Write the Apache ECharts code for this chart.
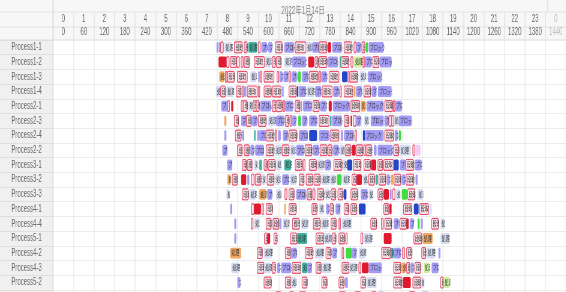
<!DOCTYPE html>
<html><head><meta charset="utf-8">
<script src="https://cdn.jsdelivr.net/npm/echarts@6/dist/echarts.min.js"></script>
<style>html,body{margin:0;padding:0;background:#fff;overflow:hidden;width:566px;height:292px}#c{width:943.33px;height:305px;transform:scaleX(0.6);transform-origin:0 0}</style>
</head><body><div id="c"></div>
<script>
const dateTitle = '2022年1月14日';
const hourLabels = ['0','1','2','3','4','5','6','7','8','9','10','11','12','13','14','15','16','17','18','19','20','21','22','23','0'];
const minuteLabels = ['0','60','120','180','240','300','360','420','480','540','600','660','720','780','840','900','960','1020','1080','1140','1200','1260','1320','1380','1440'];
const rowNames = ['Process1-1','Process1-2','Process1-3','Process1-4','Process2-1','Process2-3','Process2-4','Process2-2','Process3-1','Process3-2','Process3-3','Process4-1','Process4-4','Process5-1','Process4-2','Process4-3','Process5-2','Process5-3'];

// [start minute, end minute, kind]
const p1_1 = [[478,484,'B'],[485,490,'B'],[490,498,'D'],[501,524,'S'],[530,553,'D'],[559,568,'D'],[571,597,'T'],[600,606,'D'],[609,626,'B'],[629,641,'B'],[650,670,'D'],[676,705,'B'],[708,740,'D'],[740,758,'S'],[758,778,'B'],[778,801,'D'],[804,813,'R'],[816,845,'B'],[851,874,'D'],[880,886,'D'],[886,900,'B'],[903,912,'D'],[915,921,'G'],[923,967,'B']];
const p1_2 = [[484,507,'R'],[507,515,'D'],[518,536,'D'],[537,545,'D'],[550,556,'D'],[559,574,'D'],[588,618,'D'],[620,638,'S'],[641,650,'D'],[653,667,'D'],[676,696,'S'],[699,740,'B'],[746,763,'R'],[766,775,'D'],[778,801,'D'],[804,833,'B'],[838,842,'T'],[842,865,'D'],[871,877,'D'],[880,903,'L'],[906,910,'D'],[912,932,'B'],[935,953,'D'],[955,990,'B']];
const p1_3 = [[486,501,'O'],[504,507,'D'],[510,530,'D'],[539,568,'D'],[577,594,'S'],[600,604,'B'],[606,610,'D'],[617,646,'D'],[655,660,'D'],[662,672,'B'],[674,688,'B'],[690,694,'D'],[697,713,'B'],[716,725,'G'],[728,746,'B'],[749,775,'D'],[778,782,'D'],[784,801,'B'],[807,836,'D'],[845,860,'N'],[862,866,'D'],[868,891,'D'],[897,914,'S'],[920,961,'B']];
const p1_4 = [[476,490,'S'],[490,504,'D'],[507,528,'S'],[536,550,'D'],[553,556,'D'],[559,565,'B'],[568,597,'D'],[600,604,'D'],[617,638,'D'],[641,667,'D'],[670,674,'B'],[690,711,'D'],[713,717,'N'],[719,740,'B'],[742,763,'S'],[766,784,'B'],[787,816,'D'],[819,836,'B'],[839,843,'D'],[851,877,'D'],[880,884,'O'],[886,903,'B'],[909,929,'D'],[932,946,'B'],[950,990,'B']];
const p2_1 = [[492,510,'B'],[510,516,'D'],[521,527,'R'],[550,556,'D'],[556,568,'D'],[571,582,'S'],[585,594,'D'],[594,603,'D'],[606,638,'B'],[641,652,'D'],[652,670,'D'],[673,676,'D'],[678,702,'B'],[708,722,'D'],[724,727,'B'],[731,757,'B'],[760,778,'D'],[781,800,'B'],[806,815,'R'],[818,868,'B'],[871,897,'D'],[900,914,'O'],[917,967,'B'],[970,993,'D'],[995,999,'D'],[1000,1020,'B']];
const p2_3 = [[501,507,'O'],[530,542,'D'],[550,565,'B'],[565,580,'D'],[582,597,'B'],[600,623,'D'],[629,650,'S'],[652,676,'B'],[679,690,'D'],[693,697,'D'],[699,711,'B'],[717,725,'G'],[728,743,'B'],[749,772,'B'],[778,807,'D'],[810,814,'T'],[816,845,'B'],[851,865,'D'],[870,874,'R'],[878,886,'D'],[886,900,'B'],[909,923,'S'],[929,967,'B'],[969,982,'B'],[982,990,'D'],[990,996,'D'],[996,1011,'S'],[1011,1049,'B']];
const p2_4 = [[501,507,'B'],[533,550,'D'],[553,559,'B'],[588,592,'T'],[597,603,'B'],[603,623,'B'],[623,646,'D'],[650,654,'D'],[658,666,'B'],[672,687,'B'],[690,713,'D'],[719,745,'B'],[749,772,'N'],[778,807,'B'],[810,836,'D'],[842,848,'B'],[851,880,'B'],[883,887,'D'],[906,912,'N'],[912,967,'B'],[970,996,'D'],[999,1008,'B'],[1011,1017,'G']];
const p2_2 = [[495,510,'B'],[539,553,'D'],[559,574,'D'],[577,588,'B'],[591,617,'B'],[623,646,'D'],[649,667,'S'],[670,690,'D'],[693,708,'S'],[711,734,'B'],[737,757,'D'],[760,778,'B'],[781,801,'D'],[804,816,'D'],[819,836,'B'],[839,851,'S'],[854,871,'D'],[874,885,'R'],[886,906,'D'],[909,912,'D'],[915,932,'D'],[938,946,'B'],[949,993,'B'],[996,1011,'D'],[1014,1046,'S'],[1052,1058,'D'],[1060,1075,'P']];
const p3_1 = [[509,524,'B'],[553,565,'D'],[568,582,'D'],[588,597,'S'],[603,611,'T'],[617,626,'D'],[629,650,'D'],[653,667,'S'],[676,696,'T'],[708,728,'D'],[731,737,'D'],[749,770,'D'],[772,792,'S'],[795,812,'B'],[821,845,'D'],[848,858,'S'],[860,875,'N'],[878,900,'D'],[909,928,'D'],[930,945,'R'],[950,964,'D'],[967,996,'D'],[996,1011,'N'],[1014,1031,'B'],[1031,1055,'D'],[1058,1078,'B']];
const p3_2 = [[510,519,'O'],[524,539,'D'],[550,565,'R'],[568,574,'B'],[580,588,'D'],[591,608,'D'],[611,620,'S'],[626,646,'D'],[649,664,'S'],[670,690,'B'],[693,711,'S'],[720,734,'D'],[740,760,'D'],[763,781,'D'],[784,807,'S'],[810,826,'S'],[830,844,'G'],[846,866,'S'],[874,888,'D'],[888,903,'R'],[906,920,'S'],[923,940,'D'],[943,950,'T'],[953,973,'D'],[976,985,'B'],[988,995,'O'],[997,1017,'D'],[1020,1030,'B'],[1032,1055,'D'],[1060,1066,'B']];
const p3_3 = [[507,516,'S'],[553,571,'D'],[574,594,'S'],[603,623,'O'],[626,641,'B'],[652,667,'S'],[678,684,'D'],[690,705,'D'],[711,740,'B'],[743,757,'D'],[760,766,'D'],[772,792,'D'],[795,810,'S'],[813,827,'D'],[833,848,'D'],[850,858,'N'],[871,891,'D'],[900,920,'B'],[923,935,'S'],[950,965,'D'],[967,982,'R'],[985,990,'B'],[993,1000,'D'],[1003,1014,'S'],[1020,1035,'G'],[1037,1058,'D'],[1066,1081,'S']];
const p4_1 = [[518,524,'B'],[580,588,'D'],[588,608,'R'],[611,614,'D'],[623,641,'D'],[676,680,'O'],[690,711,'D'],[757,772,'D'],[778,792,'S'],[798,807,'B'],[810,820,'D'],[826,840,'B'],[851,865,'D'],[871,888,'D'],[894,914,'N'],[967,982,'D'],[984,990,'R'],[1025,1049,'D'],[1055,1069,'N'],[1072,1098,'D'],[1101,1107,'S']];
const p4_4 = [[530,536,'B'],[580,585,'D'],[588,603,'S'],[623,638,'D'],[643,660,'D'],[662,668,'B'],[672,690,'S'],[700,720,'D'],[725,745,'S'],[761,781,'D'],[784,804,'S'],[813,828,'D'],[836,840,'D'],[845,874,'S'],[929,946,'D'],[960,966,'D'],[970,990,'D'],[996,1011,'B'],[1014,1034,'D'],[1034,1040,'R'],[1043,1055,'B'],[1066,1072,'G'],[1075,1081,'B'],[1107,1127,'D'],[1133,1145,'S']];
const p5_1 = [[530,536,'B'],[618,627,'D'],[627,635,'R'],[646,655,'D'],[694,713,'D'],[713,743,'T'],[769,792,'D'],[792,813,'S'],[816,827,'D'],[836,853,'D'],[856,860,'D'],[900,906,'D'],[909,932,'S'],[967,990,'R'],[1055,1078,'D'],[1081,1110,'O'],[1133,1160,'S']];
const p4_2 = [[518,550,'O'],[597,612,'D'],[617,641,'S'],[679,696,'D'],[696,713,'B'],[737,760,'D'],[766,792,'S'],[798,813,'D'],[816,830,'B'],[845,850,'D'],[856,874,'G'],[874,888,'B'],[894,914,'S'],[961,987,'D'],[987,996,'T'],[996,1017,'B'],[1022,1028,'D'],[1034,1049,'D'],[1078,1090,'D'],[1092,1118,'S'],[1127,1133,'B']];
const p4_3 = [[521,545,'S'],[597,617,'D'],[617,638,'S'],[641,650,'D'],[655,664,'B'],[667,696,'B'],[699,725,'D'],[728,743,'T'],[743,757,'B'],[769,784,'D'],[787,813,'S'],[845,865,'D'],[865,888,'S'],[894,900,'D'],[903,923,'R'],[923,961,'B'],[996,1017,'D'],[1020,1031,'O'],[1034,1043,'D'],[1046,1055,'B'],[1058,1075,'D'],[1084,1101,'L'],[1107,1127,'B']];
const p5_2 = [[539,548,'B'],[617,638,'D'],[679,696,'D'],[696,711,'S'],[728,743,'D'],[786,801,'D'],[836,851,'D'],[854,862,'B'],[900,914,'D'],[917,946,'S'],[996,1020,'D'],[1023,1046,'R'],[1052,1075,'D'],[1075,1084,'S'],[1133,1142,'D'],[1142,1160,'L']];
const p5_3 = [[550,556,'B'],[650,667,'D'],[690,705,'D'],[720,740,'D'],[836,856,'D'],[882,900,'D'],[930,946,'D'],[950,968,'N'],[1040,1060,'D'],[1078,1100,'N']];

const rowTasks = [p1_1,p1_2,p1_3,p1_4,p2_1,p2_3,p2_4,p2_2,p3_1,p3_2,p3_3,p4_1,p4_4,p5_1,p4_2,p4_3,p5_2,p5_3];

const kinds = {
  B:{fill:'#a39cf4', text:'ブロック', color:'#333'},
  D:{fill:'#fbe1ea', stroke:'#e4506e', text:'段取', color:'#333'},
  S:{fill:'#d6ddf3', text:'処理', color:'#333'},
  R:{fill:'#e01a2e', text:'', color:'#fff'},
  T:{fill:'#3fb3a0', text:'処理', color:'#333'},
  G:{fill:'#3fdc42', text:'', color:'#333'},
  O:{fill:'#f2a862', text:'処理', color:'#333'},
  N:{fill:'#2446c8', text:'', color:'#fff'},
  L:{fill:'#cfee9e', text:'処理', color:'#333'},
  P:{fill:'#f3cdf3', text:'', color:'#333'}
};

const flat = [];
rowTasks.forEach((list, r) => list.forEach(t => flat.push([r, t[0], t[1], t[2]])));
const seriesData = flat.map(f => [f[1], f[0], f[2]]);

const SX = 0.6;           // page is drawn wide and squeezed horizontally like the reference
const W = 566 / SX;
const H = 305;
const X = v => v / SX;    // convert visible px to drawing px
const FONT = "'Liberation Sans','Noto Sans CJK JP',sans-serif";
const ROWH = 14.7;
const chart = echarts.init(document.getElementById('c'), null, {renderer:'canvas', width:W, height:H});
chart.setOption({
  backgroundColor:'#f7f7f7',
  animation:false,
  title:{text:dateTitle, left:X(300), top:1, textAlign:'center', textStyle:{fontSize:10.5, fontWeight:'normal', color:'#888', fontFamily:FONT}},
  grid:{left:X(53), top:40, right:W - X(53) - X(515), bottom:H - 40 - ROWH*rowNames.length, show:true, backgroundColor:'#fff', borderWidth:0},
  graphic:[
    {type:'rect', z:-1, shape:{x:0,y:40,width:X(53),height:270}, style:{fill:'#f0f0f0'}},
    {type:'line', shape:{x1:0,y1:12,x2:W,y2:12}, style:{stroke:'#e2e2e2', lineWidth:1}},
    {type:'line', shape:{x1:0,y1:27,x2:W,y2:27}, style:{stroke:'#e2e2e2', lineWidth:1}},
    {type:'line', shape:{x1:0,y1:40,x2:W,y2:40}, style:{stroke:'#dcdcdc', lineWidth:1}},
    {type:'line', shape:{x1:X(53),y1:0,x2:X(53),y2:H}, style:{stroke:'#d6d6d6', lineWidth:1.5}},
    {type:'line', shape:{x1:X(547.5),y1:0,x2:X(547.5),y2:12}, style:{stroke:'#e2e2e2', lineWidth:1.5}}
  ],
  xAxis:[
    {type:'value', min:0, max:1500, show:false},
    {type:'category', data:minuteLabels, position:'top', offset:0, boundaryGap:true,
     axisLine:{show:false}, axisTick:{show:true, length:28, interval:0, lineStyle:{color:'#e2e2e2', width:1.5}},
     axisLabel:{interval:0, margin:3, fontSize:10, fontFamily:FONT, color:(v,i)=> i===24?'#c0c0c0':'#666'},
     splitLine:{show:true, interval:0, lineStyle:{color:'#ebebeb', width:1.5}}},
    {type:'category', data:hourLabels, position:'top', offset:13, boundaryGap:true,
     axisLine:{show:false}, axisTick:{show:false},
     axisLabel:{interval:0, margin:3, fontSize:10, fontFamily:FONT, color:(v,i)=> i===24?'#c0c0c0':'#666'},
     splitLine:{show:false}}
  ],
  yAxis:{type:'category', data:rowNames, inverse:true, boundaryGap:true,
    axisLine:{show:false}, axisTick:{show:true, length:X(53), interval:0, lineStyle:{color:'#dedede'}},
    axisLabel:{interval:0, align:'center', margin:X(26.5), fontSize:10, fontFamily:FONT, color:'#666'},
    splitLine:{show:true, interval:0, lineStyle:{color:'#ececec'}}},
  series:[{
    type:'custom', xAxisIndex:0, yAxisIndex:0, data:seriesData, clip:false,
    encode:{x:[0,2], y:1},
    renderItem:function(params, api){
      const f = flat[params.dataIndex];
      const k = kinds[f[3]];
      const a = api.coord([api.value(0), api.value(1)]);
      const b = api.coord([api.value(2), api.value(1)]);
      const h = api.size([0,1])[1]*0.74;
      const w = Math.max(b[0]-a[0], 2.5);
      const y0 = a[1]-h/2;
      const ch = [{type:'rect', shape:{x:a[0], y:y0, width:w, height:h, r:2},
        style:{fill:k.fill, stroke:k.stroke||null, lineWidth:k.stroke?1.2:0}}];
      if (k.text && w > 5) ch.push({type:'text', style:{x:a[0]+2, y:a[1]+0.5, text:k.text, align:'left', verticalAlign:'middle',
        fontSize:6.5, fontFamily:FONT, fill:k.color}});
      return {type:'group', children:ch, clipPath:{type:'rect', shape:{x:a[0]-1, y:y0-1, width:w+2, height:h+2}}};
    }
  }]
});
</script></body></html>
